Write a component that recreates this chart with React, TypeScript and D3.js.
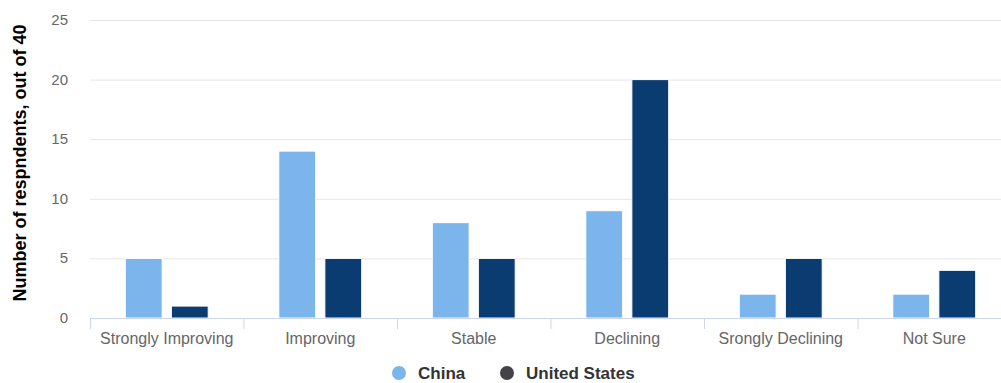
import React from "react";
import * as d3 from "d3";

const categories = ["Strongly Improving", "Improving", "Stable", "Declining", "Srongly Declining", "Not Sure"];
const chinaValues = [5, 14, 8, 9, 2, 2];
const usValues = [1, 5, 5, 20, 5, 4];
const yTicks = [0, 5, 10, 15, 20, 25];
const seriesNames = ["China", "United States"];

const W = 1001;
const H = 383;
const left = 90;
const bandW = 153.5;
const top = 20;
const bottom = 318;

export default function App() {
  const x = d3.scaleBand<string>().domain(categories).range([left, left + bandW * categories.length]).paddingInner(0).paddingOuter(0);
  const y = d3.scaleLinear().domain([0, 25]).range([bottom, top]);
  // Highcharts-like: groupPadding 0.2, pointPadding 0.1
  const groupPad = 0.2 * x.bandwidth();
  const slot = (x.bandwidth() - 2 * groupPad) / 2;
  const barW = slot * 0.8;
  const colors = ["#7cb5ec", "#0b3c71"];
  const legendColors = ["#7cb5ec", "#434348"];
  const data = [chinaValues, usValues];
  const font = 'Arial, "Liberation Sans", Helvetica, sans-serif';
  const legendX = [399, 507];

  return (
    <svg width={W} height={H} style={{ position: "absolute", left: 0, top: 0, background: "#fff" }} fontFamily={font}>
      {yTicks.map((t) => (
        <g key={t}>
          {t !== 0 && <line x1={left} x2={W} y1={y(t) + 0.5} y2={y(t) + 0.5} stroke="#e6e6e6" />}
          <text x={68} y={y(t) + 5} textAnchor="end" fontSize={15} fill="#666">{t}</text>
        </g>
      ))}
      <text transform={`translate(26,${163}) rotate(-90)`} textAnchor="middle" fontSize={18} fontWeight="bold" fill="#000">
        Number of respndents, out of 40
      </text>
      {data.map((vals, si) =>
        vals.map((v, i) => {
          const bx = (x(categories[i]) as number) + groupPad + si * slot + slot * 0.1;
          return (
            <rect key={`${si}-${i}`} x={bx} y={y(v)} width={barW} height={bottom - y(v)} fill={colors[si]} stroke="#fff" strokeWidth={1} />
          );
        })
      )}
      <line x1={left} x2={W} y1={bottom + 0.5} y2={bottom + 0.5} stroke="#ccd6eb" />
      {categories.map((c, i) => (
        <g key={c}>
          <line x1={(x(c) as number) + 0.5} x2={(x(c) as number) + 0.5} y1={bottom} y2={bottom + 11} stroke="#ccd6eb" />
          <text x={(x(c) as number) + x.bandwidth() / 2} y={bottom + 26} textAnchor="middle" fontSize={16} fill="#666">{c}</text>
        </g>
      ))}
      <g>
        {seriesNames.map((s, i) => (
          <g key={s}>
            <circle cx={legendX[i]} cy={373} r={7} fill={legendColors[i]} />
            <text x={legendX[i] + 19} y={378.5} fontSize={17} fontWeight="bold" fill="#333">{s}</text>
          </g>
        ))}
      </g>
    </svg>
  );
}
